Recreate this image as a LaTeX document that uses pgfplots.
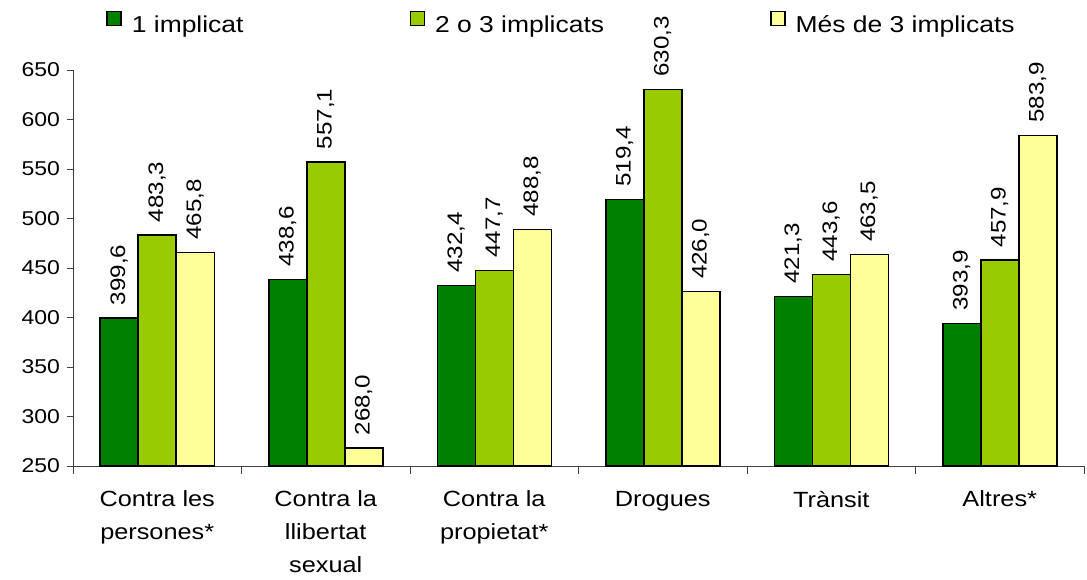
\documentclass[border=0pt]{standalone}
\usepackage{pgfplots}
\pgfplotsset{compat=1.18}
\usepackage{fontspec}
\setmainfont{Liberation Sans}[FakeStretch=1.15]
\definecolor{c1}{HTML}{008000}
\definecolor{c2}{HTML}{99CC00}
\definecolor{c3}{HTML}{FFFF99}
\begin{document}
\begin{tikzpicture}
  \begin{axis}[
      name=ax,
      scale only axis, width=505.5pt, height=198pt,
      ybar=0pt, bar width=19pt,
      xmin=-0.5, xmax=5.5, ymin=250, ymax=650,
      ytick={250,300,...,650},
      xtick={0,...,5},
      xticklabels={Contra les\\persones*, Contra la\\llibertat\\sexual, Contra la\\propietat*, Drogues, Tr\`ansit, Altres*},
      x tick label style={align=center, font=\fontsize{11}{16.3}\selectfont, yshift=-6pt},
      y tick label style={font=\fontsize{10}{12}\selectfont},
      /pgf/number format/assume math mode=true,
      axis x line*=bottom, axis y line*=left,
      axis line style={-, draw=black!75},
      tick align=outside, major tick length=3pt,
      major x tick style={draw=none},
      y tick style={draw=black!75},
      extra x ticks={-0.5,0.5,...,5.5}, extra x tick labels={},
      extra x tick style={major tick length=4pt, major x tick style={draw=black!75}},
      clip=false,
      nodes near coords={\pgfmathprintnumber[fixed,fixed zerofill,precision=1,use comma,assume math mode=true]{\pgfplotspointmeta}},
      every node near coord/.append style={rotate=90, anchor=west, inner xsep=6pt, inner ysep=0pt, font=\fontsize{10.5}{12}\selectfont, black},
      legend image code/.code={\draw[#1,draw=black,line width=0.75pt] (0pt,0pt) rectangle (7pt,7pt);},
      legend columns=3,
      legend style={at={(axis description cs:0.0326,1.1136)}, anchor=west, draw=none, fill=none, inner sep=0pt,
        font=\fontsize{11.5}{13}\selectfont,
        /tikz/every even column/.append style={column sep=81pt},
        /tikz/every odd column/.append style={column sep=3pt}},
    ]
    \addplot[fill=c1, draw=black, line width=0.75pt] coordinates {
        (0,399.6) (1,438.6) (2,432.4) (3,519.4) (4,421.3) (5,393.9)};
    \addlegendentry{1 implicat}
    \addplot[fill=c2, draw=black, line width=0.75pt] coordinates {
        (0,483.3) (1,557.1) (2,447.7) (3,630.3) (4,443.6) (5,457.9)};
    \addlegendentry{2 o 3 implicats}
    \addplot[fill=c3, draw=black, line width=0.75pt] coordinates {
        (0,465.8) (1,268.0) (2,488.8) (3,426.0) (4,463.5) (5,583.9)};
    \addlegendentry{M\'es de 3 implicats}
  \end{axis}
  \pgfresetboundingbox
  \path ([xshift=-36.5pt,yshift=-57pt]ax.south west) rectangle ([xshift=1.5pt,yshift=35pt]ax.north east);
\end{tikzpicture}
\end{document}
